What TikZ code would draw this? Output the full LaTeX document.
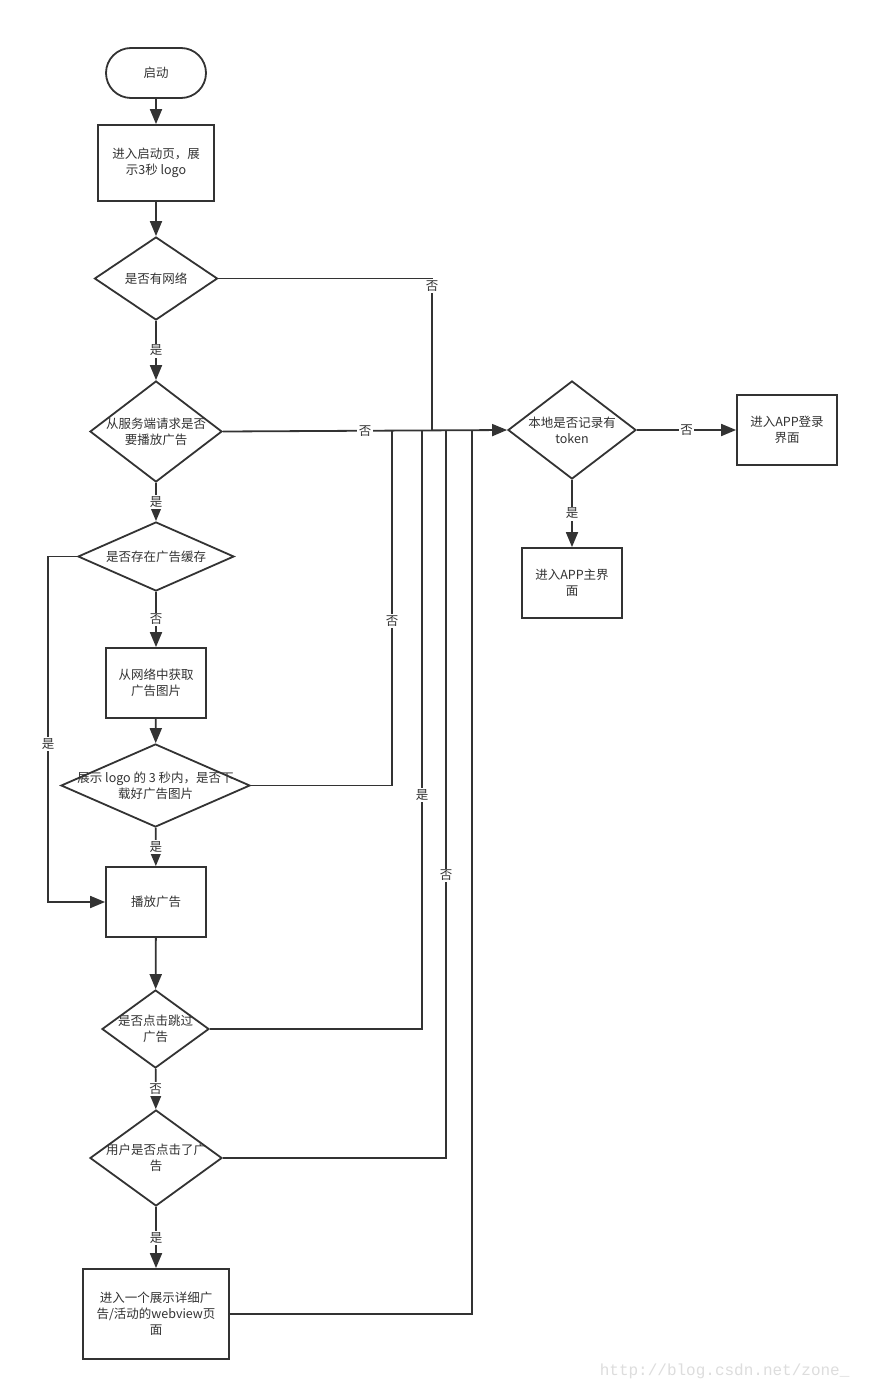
\documentclass[tikz,border=0pt]{standalone}
\usepackage{fontspec}
\setmainfont{Noto Sans CJK SC}
\newfontfamily\wmfont{Liberation Mono}
\usetikzlibrary{shapes.geometric,arrows.meta}
\definecolor{ink}{HTML}{333333}
\definecolor{wmgray}{HTML}{DDDDDD}
\begin{document}
\begin{tikzpicture}[x=1pt,y=-1pt,
  every node/.style={font=\fontsize{12.5}{16}\selectfont, text=ink},
  box/.style={draw=ink, line width=1.8pt, rectangle, inner sep=0pt, align=center},
  startbox/.style={box, rounded corners=25pt, minimum width=100pt, minimum height=50pt},
  dia/.style={draw=ink, line width=1.8pt, diamond, inner sep=0pt},
  conn/.style={draw=ink, line width=1.8pt},
  arr/.style={conn, -{Triangle[length=15pt,width=12pt]}},
  lab/.style={fill=white, inner sep=1.5pt},
  dtxt/.style={align=center}
]
\fill[white] (0,0) rectangle (868,1391);
\useasboundingbox (0,0) rectangle (868,1391);

% left column
\node[startbox] (s) at (156,73) {启动};
\node[box, minimum width=116pt, minimum height=76pt] (b1) at (156,163) {进入启动页，展\\示3秒 logo};
\node[dia, minimum width=123pt, minimum height=83pt, label={[dtxt]center:是否有网络}] (d1) at (156,278.5) {};
\node[dia, minimum width=132pt, minimum height=101pt, label={[dtxt]center:{从服务端请求是否\\要播放广告}}] (d2) at (156,431.5) {};
\node[dia, minimum width=156pt, minimum height=69pt, label={[dtxt]center:是否存在广告缓存}] (d3) at (156,556.5) {};
\node[box, minimum width=100pt, minimum height=70pt] (b2) at (156,683) {从网络中获取\\广告图片};
\node[dia, minimum width=189pt, minimum height=83pt, label={[dtxt]center:{展示 logo 的 3 秒内，是否下\\载好广告图片}}] (d4) at (155.5,785.5) {};
\node[box, minimum width=100pt, minimum height=70pt] (b3) at (156,902) {播放广告};
\node[dia, minimum width=107pt, minimum height=78pt, label={[dtxt]center:{是否点击跳过\\广告}}] (d5) at (155.5,1029) {};
\node[dia, minimum width=132pt, minimum height=96pt, label={[dtxt]center:{用户是否点击了广\\告}}] (d6) at (156,1158) {};
\node[box, minimum width=146pt, minimum height=90pt] (b4) at (156,1314) {进入一个展示详细广\\告/活动的webview页\\面};

% right side
\node[dia, minimum width=128pt, minimum height=98pt, label={[dtxt]center:{本地是否记录有\\token}}] (d7) at (572,430) {};
\node[box, minimum width=100pt, minimum height=70pt] (b5) at (787,430) {进入APP登录\\界面};
\node[box, minimum width=100pt, minimum height=70pt] (b6) at (572,583) {进入APP主界\\面};

% junction coordinates on the main line
\coordinate (j1) at (432,430);
\coordinate (j4) at (392,430);
\coordinate (j5) at (422,430);
\coordinate (j6) at (446,430);
\coordinate (j7) at (472,430);
\coordinate (c3) at (48,556.5);

% vertical flow
\draw[arr] (s) -- (b1);
\draw[arr] (b1) -- (d1);
\draw[arr] (d1) -- node[lab]{是} (d2);
\draw[arr] (d2) -- node[lab]{是} (d3);
\draw[arr] (d3) -- node[lab]{否} (b2);
\draw[arr] (b2) -- (d4);
\draw[arr] (d4) -- node[lab]{是} (b3);
\draw[arr] (b3) -- (d5);
\draw[arr] (d5) -- node[lab]{否} (d6);
\draw[arr] (d6) -- node[lab]{是} (b4);

% cache yes
\draw[arr] (d3.west) -- (c3) |- node[lab, pos=0.271]{是} (b3.west);

% to token check
\draw[arr] (d2.east) -- node[lab]{否} (d7.west);
\draw[conn] (d1.east) -| node[lab, pos=0.526]{否} (j1);
\draw[conn] (d4.east) -| node[lab, pos=0.731]{否} (j4);
\draw[conn] (d5.east) -| node[lab, pos=0.695]{是} (j5);
\draw[conn] (d6.east) -| node[lab, pos=0.694]{否} (j6);
\draw[conn] (b4.east) -| (j7);

\draw[arr] (d7.east) -- node[lab]{否} (b5.west);
\draw[arr] (d7.south) -- node[lab]{是} (b6.north);

% watermark
\node[font=\wmfont\fontsize{16}{16}\selectfont, text=wmgray, anchor=east] (wm) at (853,1371) {http://blog.csdn.net/zone\_};
\end{tikzpicture}
\end{document}
